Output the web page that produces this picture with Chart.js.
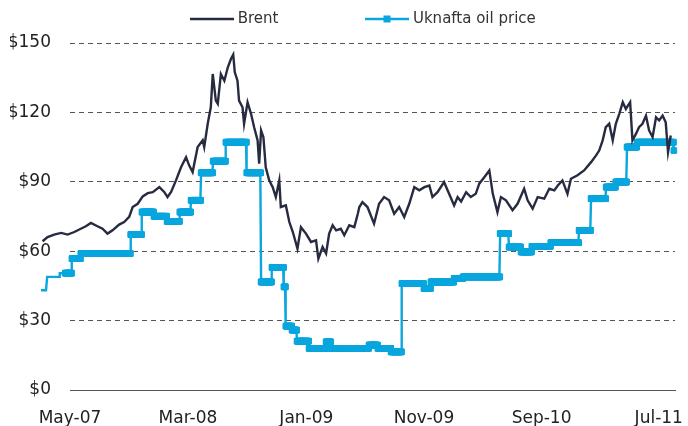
<!DOCTYPE html>
<html><head><meta charset="utf-8">
<script src="https://cdn.jsdelivr.net/npm/chart.js@4.4.1/dist/chart.umd.min.js"></script>
<style>html,body{margin:0;padding:0;background:#fff}#wrap{width:688px;height:426px}</style>
</head><body><div id="wrap"><canvas id="c" width="688" height="426"></canvas></div>
<script>
// ---------- data ----------
const brentDates = [
'2007-02-19','2007-03-04','2007-03-21','2007-04-08','2007-04-25','2007-05-12','2007-05-29','2007-06-11','2007-06-24','2007-07-11','2007-07-24','2007-08-06','2007-08-19','2007-09-05','2007-09-18','2007-10-01','2007-10-10','2007-10-23','2007-11-05','2007-11-18','2007-12-01','2007-12-18','2007-12-31',
'2008-01-08','2008-01-17','2008-01-30','2008-02-12','2008-02-25','2008-03-04','2008-03-13','2008-03-26','2008-04-08','2008-04-12','2008-04-21','2008-04-29','2008-05-04','2008-05-12','2008-05-17','2008-05-25','2008-06-03','2008-06-12','2008-06-20','2008-06-26','2008-06-30','2008-07-07','2008-07-11','2008-07-20','2008-07-24','2008-08-02','2008-08-11','2008-08-19','2008-08-28','2008-09-01','2008-09-06','2008-09-12','2008-09-18','2008-09-27','2008-10-06','2008-10-14','2008-10-23','2008-10-27','2008-11-09','2008-11-18','2008-11-27','2008-12-09','2008-12-18','2008-12-31',
'2009-01-13','2009-01-26','2009-02-01','2009-02-12','2009-02-21','2009-03-01','2009-03-10','2009-03-19','2009-03-31','2009-04-09','2009-04-22','2009-05-05','2009-05-14','2009-05-18','2009-05-26','2009-06-08','2009-06-25','2009-07-08','2009-07-21','2009-08-03','2009-08-16','2009-08-29','2009-09-11','2009-09-24','2009-10-07','2009-10-20','2009-11-02','2009-11-15','2009-11-23','2009-12-06','2009-12-23',
'2010-01-05','2010-01-18','2010-01-27','2010-02-05','2010-02-18','2010-03-02','2010-03-15','2010-03-24','2010-04-06','2010-04-19','2010-04-28','2010-05-10','2010-05-19','2010-06-01','2010-06-18','2010-07-01','2010-07-18','2010-07-27','2010-08-09','2010-08-22','2010-09-08','2010-09-21','2010-10-04','2010-10-13','2010-10-25','2010-11-07','2010-11-16','2010-12-03','2010-12-20',
'2011-01-07','2011-01-20','2011-01-28','2011-02-06','2011-02-14','2011-02-23','2011-03-04','2011-03-12','2011-03-21','2011-03-30','2011-04-07','2011-04-18','2011-04-24','2011-05-03','2011-05-11','2011-05-20','2011-05-29','2011-06-06','2011-06-15','2011-06-24','2011-07-02','2011-07-11','2011-07-19','2011-07-25','2011-08-01'
];
const brentValues = [
64.3,66.1,67.2,67.9,67.2,68.3,69.7,70.8,72.2,70.8,69.7,67.6,69.0,71.5,72.6,74.8,79.1,80.5,83.7,85.1,85.5,87.7,85.5,
83.4,85.5,90.6,96.3,100.6,97.1,94.2,105,107.9,105,115.1,122.2,136.6,125.1,123.7,136.6,133.7,139.5,143.1,145,137.3,133.7,125.1,122.2,115.1,124.4,119.4,113.6,107.9,97.8,112.2,109.3,96.3,90.6,87.7,83.4,90.6,79.1,79.8,72.6,68.3,61.1,70.4,67.6,
64,64.7,56.8,61.8,59,67.6,71.2,69,69.7,66.9,71.2,70.4,76.2,79.1,81.2,79.1,71.9,80.5,83.4,82,76.2,79.1,74.8,80.5,87.7,86.3,87.7,88.4,83.4,85.5,89.9,
84.8,79.8,83.4,81.5,85.5,83.4,84.8,89.2,92,94.9,84.8,76.9,83.4,82,77.7,80.5,87,82,78.4,83.4,82.7,87,86.3,88.4,90.6,84.8,91.3,92.8,94.9,
98.5,101.4,103.5,107.9,113.6,115.1,107.9,115.1,119.4,124.4,121.5,124.4,107.9,110.7,113.6,115.1,118.6,112.2,109.3,117.9,116.5,118.6,115.7,102.8,110
];
// Uknafta price: date each price level took effect, and the level
const uknaftaDates = [
'2007-02-15','2007-03-03','2007-04-05','2007-05-06','2007-05-29','2007-10-05','2007-11-03','2007-12-04','2008-01-07','2008-02-09','2008-03-09','2008-04-04','2008-05-05','2008-06-07','2008-07-31','2008-09-06','2008-10-04','2008-11-04','2008-11-09','2008-11-25','2008-12-08','2009-01-08','2009-02-21','2009-03-06','2009-06-12','2009-07-05','2009-08-08','2009-09-05','2009-11-01','2009-11-19','2010-01-18','2010-02-10','2010-05-17','2010-06-09','2010-07-10','2010-08-07','2010-09-25','2010-12-07','2011-01-07','2011-02-15','2011-03-12','2011-04-10','2011-05-06','2011-08-09'
];
const uknaftaValues = [
43.1,48.9,50.5,56.8,59.0,67.2,76.9,75.1,72.9,76.9,82.0,93.9,98.9,107.1,93.9,46.7,53.0,44.6,27.6,25.9,21.1,18.0,20.8,18.0,19.4,18.0,16.5,46.0,43.9,46.7,48.2,48.9,67.6,61.8,59.7,62.1,63.7,69.0,82.7,87.7,89.9,105.0,107.1,103.5
];
const tickDates = ['2007-05-01','2008-03-01','2009-01-01','2009-11-01','2010-09-01','2011-07-01'];
const tickLabels = ['May-07','Mar-08','Jan-09','Nov-09','Sep-10','Jul-11'];
const axisStart = '2007-05-01';
const axisEnd = '2011-08-12';
const yTicks = [0, 30, 60, 90, 120, 150];

// ---------- build ----------
const DAY = 86400000;
const day = s => (Date.parse(s + 'T00:00:00Z') - Date.parse(axisStart + 'T00:00:00Z')) / DAY;
const brentPoints = brentDates.map((d, i) => ({x: day(d), y: brentValues[i]}));
const ukPoints = [];
uknaftaDates.forEach((d, i) => {
  const a = day(d);
  const b = i < uknaftaDates.length - 1 ? day(uknaftaDates[i + 1]) : a + 1;
  for (let t = a; t < b; t++) ukPoints.push({x: t, y: uknaftaValues[i]});
});
const tickMap = {};
tickDates.forEach((d, i) => tickMap[day(d)] = tickLabels[i]);

const BRENT = '#272b40';
const UK = '#0aa6de';
function icon(color, marker) {
  const c = document.createElement('canvas');
  c.width = 44; c.height = 10;
  const g = c.getContext('2d');
  g.strokeStyle = color; g.lineWidth = 2.5;
  g.beginPath(); g.moveTo(0, 5); g.lineTo(44, 5); g.stroke();
  if (marker) { g.fillStyle = color; g.fillRect(18.5, 1.5, 7, 7); }
  return c;
}
const icons = [icon(BRENT, false), icon(UK, true)];

const legendShift = {
  id: 'legendShift',
  afterLayout(chart) {
    const lg = chart.legend;
    const P = lg.options.labels.padding;
    lg.top = 19 - P - 7.5;
    lg.left += 22; lg.right += 22;
  }
};

const tickFont = {family: 'DejaVu Sans', size: 17};
new Chart(document.getElementById('c'), {
  type: 'line',
  data: {
    datasets: [
      {label: 'Brent', data: brentPoints, borderColor: BRENT, backgroundColor: BRENT, borderWidth: 2.4,
       pointRadius: 0, tension: 0, clip: false},
      {label: 'Uknafta oil price', data: ukPoints, borderColor: UK, backgroundColor: UK, borderWidth: 2.4,
       pointStyle: 'rect', pointRadius: 4, pointBorderWidth: 1, pointBackgroundColor: UK, pointBorderColor: UK,
       tension: 0, clip: false}
    ]
  },
  options: {
    responsive: false, animation: false, devicePixelRatio: 1,
    layout: {padding: {left: 10, right: 13, top: 0, bottom: 0}},
    plugins: {
      tooltip: {enabled: false},
      legend: {
        position: 'top', maxHeight: 43,
        labels: {
          usePointStyle: true, pointStyleWidth: 37, padding: 90, color: '#333',
          font: {family: 'DejaVu Sans', size: 15},
          generateLabels(chart) {
            const items = Chart.defaults.plugins.legend.labels.generateLabels(chart);
            items.forEach((it, i) => it.pointStyle = icons[i]);
            return items;
          }
        }
      }
    },
    scales: {
      x: {
        type: 'linear', bounds: 'data',
        afterDataLimits(s) { s.min = 0; s.max = day(axisEnd); },
        afterBuildTicks(s) { s.ticks = tickDates.map(d => ({value: day(d)})); },
        afterFit(s) { s.height = 36; s.paddingLeft = 0; s.paddingRight = 0; },
        ticks: {callback: v => tickMap[v], autoSkip: false, maxRotation: 0, padding: 18, font: tickFont, color: '#222'},
        grid: {display: false, drawTicks: false},
        border: {display: true, color: '#555', width: 1}
      },
      y: {
        min: 0, max: 150,
        afterBuildTicks(s) { s.ticks = yTicks.map(v => ({value: v})); },
        afterFit(s) { s.width = 60; },
        ticks: {callback: v => '$' + v, padding: 19, font: tickFont, color: '#222'},
        grid: {drawTicks: false, lineWidth: 1,
               color: c => (c.tick && c.tick.value === 0) ? 'rgba(0,0,0,0)' : '#555'},
        border: {display: false, dash: [5, 4]}
      }
    }
  },
  plugins: [legendShift]
});
</script></body></html>
